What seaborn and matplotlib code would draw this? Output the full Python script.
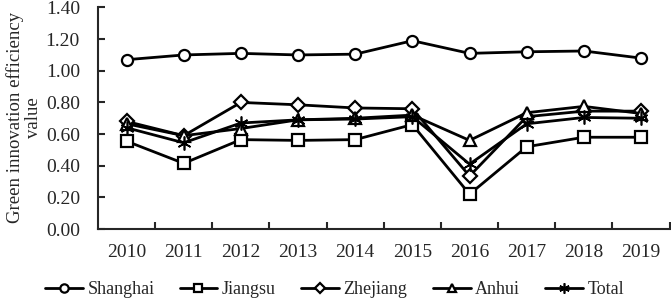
import numpy as np
import matplotlib
matplotlib.use("Agg")
import matplotlib.pyplot as plt
import pandas as pd
import seaborn as sns

years = ["2010", "2011", "2012", "2013", "2014", "2015", "2016", "2017", "2018", "2019"]
shanghai = [1.07, 1.10, 1.11, 1.10, 1.105, 1.19, 1.11, 1.12, 1.125, 1.08]
jiangsu = [0.555, 0.415, 0.565, 0.56, 0.565, 0.66, 0.22, 0.52, 0.58, 0.58]
zhejiang = [0.68, 0.59, 0.80, 0.785, 0.765, 0.76, 0.335, 0.71, 0.745, 0.745]
anhui = [0.665, 0.59, 0.635, 0.69, 0.70, 0.72, 0.56, 0.735, 0.775, 0.73]
total = [0.64, 0.545, 0.67, 0.69, 0.695, 0.71, 0.41, 0.665, 0.705, 0.70]
names = ["Shanghai", "Jiangsu", "Zhejiang", "Anhui", "Total"]

df = pd.DataFrame({
    "pos": list(range(len(years))) * 5,
    "value": shanghai + jiangsu + zhejiang + anhui + total,
    "region": sum([[n] * len(years) for n in names], []),
})

sns.set_style("ticks")
plt.rcParams["font.family"] = ["Liberation Serif", "DejaVu Serif"]

fig, ax = plt.subplots(figsize=(6.71, 2.99), dpi=100)
fig.subplots_adjust(left=0.146, right=0.998, top=0.975, bottom=0.234)

# seaborn won't mix filled and line markers, so Total's star is set afterwards
markers = {"Shanghai": "o", "Jiangsu": "s", "Zhejiang": "D",
           "Anhui": "^", "Total": "o"}
sizes = {"Shanghai": 8, "Jiangsu": 8, "Zhejiang": 7, "Anhui": 8, "Total": 10}

sns.lineplot(data=df, x="pos", y="value", hue="region", style="region",
             hue_order=names, style_order=names,
             palette=["black"] * 5, markers=markers, dashes=False,
             linewidth=2, legend=False, ax=ax)

for line, n in zip(ax.lines, names):
    if n == "Total":
        line.set_marker((6, 2, 0))
        line.set_markeredgewidth(1.2)
    else:
        line.set_markeredgewidth(1.6)
    line.set_markerfacecolor("white")
    line.set_markeredgecolor("black")
    line.set_markersize(sizes[n])
    line.set_label(n)

ax.set_xlim(-0.5, 9.5)
ax.set_ylim(0, 1.4)
ax.set_xticks(range(len(years)))
ax.set_xticklabels(years)
ax.set_xticks(np.arange(0.5, 10, 1), minor=True)
ax.tick_params(axis="x", which="major", length=0, pad=11, labelsize=14)
ax.tick_params(axis="x", which="minor", direction="in", length=5, width=1.5)
ax.set_yticks(np.arange(0, 1.41, 0.2))
ax.set_yticklabels(["%.2f" % v for v in np.arange(0, 1.41, 0.2)])
ax.tick_params(axis="y", direction="in", length=5, width=1.5, labelsize=14, pad=13)
for s in ["left", "bottom"]:
    ax.spines[s].set_linewidth(1.5)
sns.despine(ax=ax)
ax.set_xlabel("")
ax.set_ylabel("Green innovation efficiency\nvalue", fontsize=13.5, linespacing=1.1)
ax.yaxis.set_label_coords(-0.098, 0.505)

ax.legend(handles=ax.lines, labels=names, loc="center",
          bbox_to_anchor=(0.414, -0.275), ncol=5, frameon=False,
          fontsize=13, handlelength=2.1, handletextpad=0.25, columnspacing=1.4,
          markerscale=0.75, borderaxespad=0, borderpad=0)

fig.savefig("out.png", dpi=100)
